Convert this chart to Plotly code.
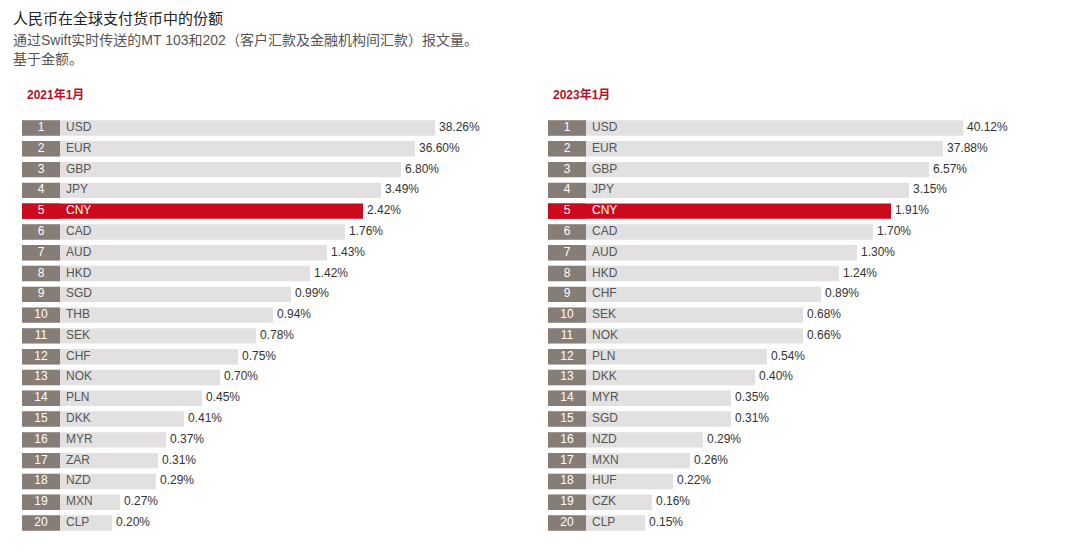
import plotly.graph_objects as go

# ----- data -----
ranks = list(range(1, 21))

cur_2021 = ['USD', 'EUR', 'GBP', 'JPY', 'CNY', 'CAD', 'AUD', 'HKD', 'SGD', 'THB',
            'SEK', 'CHF', 'NOK', 'PLN', 'DKK', 'MYR', 'ZAR', 'NZD', 'MXN', 'CLP']
share_2021 = [38.26, 36.60, 6.80, 3.49, 2.42, 1.76, 1.43, 1.42, 0.99, 0.94,
              0.78, 0.75, 0.70, 0.45, 0.41, 0.37, 0.31, 0.29, 0.27, 0.20]
# stylised bar lengths (not proportional to the share), in panel units
bar_2021 = [413, 393, 379, 359, 341, 323, 305, 288, 269, 251,
            234, 216, 198, 180, 162, 144, 136, 134, 98, 90]

cur_2023 = ['USD', 'EUR', 'GBP', 'JPY', 'CNY', 'CAD', 'AUD', 'HKD', 'CHF', 'SEK',
            'NOK', 'PLN', 'DKK', 'MYR', 'SGD', 'NZD', 'MXN', 'HUF', 'CZK', 'CLP']
share_2023 = [40.12, 37.88, 6.57, 3.15, 1.91, 1.70, 1.30, 1.24, 0.89, 0.68,
              0.66, 0.54, 0.40, 0.35, 0.31, 0.29, 0.26, 0.22, 0.16, 0.15]
bar_2023 = [415, 395, 381, 361, 343, 325, 309, 291, 273, 255,
            255, 219, 207, 183, 183, 155, 142, 125, 104, 97]

RED = '#cc0a1e'
DARK = '#877d77'
LIGHT = '#e2e0e0'
RANK_W = 38

fig = go.Figure()


def add_panel(x0, currencies, shares, lengths, label):
    rank_colors = [RED if c == 'CNY' else DARK for c in currencies]
    bar_colors = [RED if c == 'CNY' else LIGHT for c in currencies]
    fig.add_trace(go.Bar(y=ranks, x=lengths, base=x0, orientation='h', width=0.74,
                         marker=dict(color=bar_colors, line_width=0), hoverinfo='skip'))
    fig.add_trace(go.Bar(y=ranks, x=[RANK_W] * 20, base=x0, orientation='h', width=0.74,
                         marker=dict(color=rank_colors, line_width=0), hoverinfo='skip'))
    fig.add_trace(go.Scatter(y=ranks, x=[x0 + RANK_W / 2] * 20, mode='text', text=[str(r) for r in ranks],
                             textfont=dict(color='white', size=12), hoverinfo='skip'))
    fig.add_trace(go.Scatter(y=ranks, x=[x0 + 44] * 20, mode='text', text=currencies, textposition='middle right',
                             textfont=dict(color=['white' if c == 'CNY' else '#555' for c in currencies], size=12),
                             hoverinfo='skip'))
    fig.add_trace(go.Scatter(y=ranks, x=[x0 + l + 4 for l in lengths], mode='text',
                             text=[f'{s:.2f}%' for s in shares], textposition='middle right',
                             textfont=dict(color='#333', size=12), hoverinfo='skip'))
    fig.add_annotation(x=x0 + 3, y=-0.59, text=f'<b>{label}</b>', showarrow=False, xanchor='left',
                       font=dict(color='#b5122a', size=12))


add_panel(22, cur_2021, share_2021, bar_2021, '2021年1月')
add_panel(548, cur_2023, share_2023, bar_2023, '2023年1月')

fig.add_annotation(x=11, y=-4.29, text='人民币在全球支付货币中的份额', showarrow=False, xanchor='left',
                   font=dict(color='#222', size=15))
fig.add_annotation(x=11, y=-3.25, text='通过Swift实时传送的MT 103和202（客户汇款及金融机构间汇款）报文量。',
                   showarrow=False, xanchor='left', font=dict(color='#555', size=14))
fig.add_annotation(x=11, y=-2.3, text='基于金额。', showarrow=False, xanchor='left',
                   font=dict(color='#555', size=14))

fig.update_layout(
    width=1080, height=554, margin=dict(l=0, r=0, t=0, b=0),
    barmode='overlay', showlegend=False, plot_bgcolor='white', paper_bgcolor='white',
    font=dict(family='Liberation Sans, Noto Sans CJK SC, Arial'),
    xaxis=dict(range=[8, 1088], visible=False, fixedrange=True),
    yaxis=dict(range=[21.875, -4.772], visible=False, fixedrange=True),
)

fig.write_html('out.html')
